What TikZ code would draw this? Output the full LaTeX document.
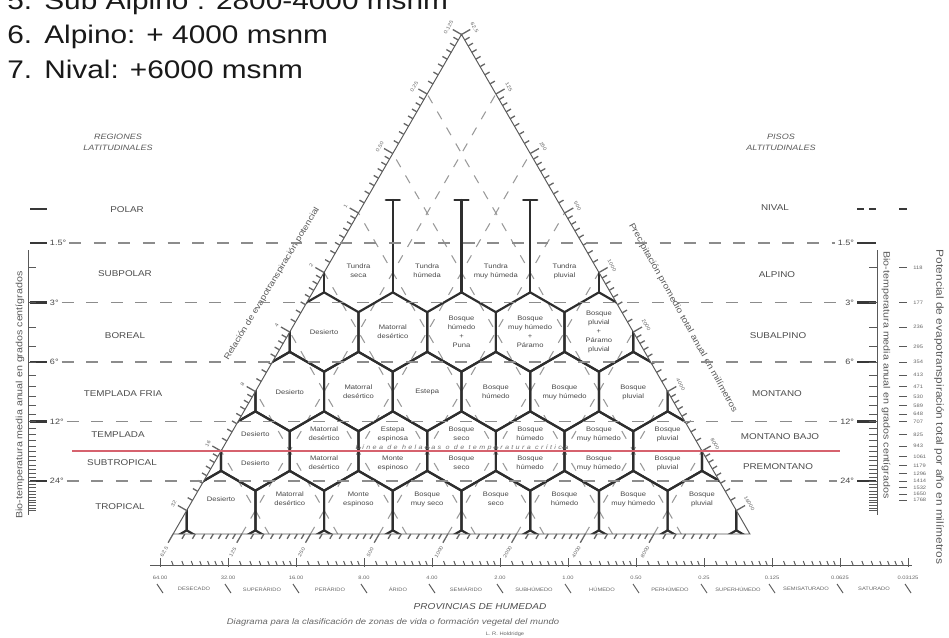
\documentclass[tikz,border=0pt]{standalone}
\usepackage{fontspec}
\setmainfont{Liberation Sans}[FakeStretch=1.17]
\newfontfamily\spacedfont{Liberation Sans}[FakeStretch=1.17,LetterSpace=38]
\usepackage{tikz}
\usetikzlibrary{arrows}
\usetikzlibrary{arrows.meta}
\definecolor{frostred}{RGB}{214,98,110}

\begin{document}
\begin{tikzpicture}[x=0.02cm,y=-0.02cm]
\useasboundingbox (0,0) rectangle (949,637);

%Heading lines
\tikzstyle{title}=[anchor=base west,inner sep=0pt,text=black!90,font=\fontsize{14.5}{17}\selectfont]
\foreach \num/\txt/\y in {5/Sub Alpino : 2800-4000 msnm/9, 6/Alpino: + 4000 msnm/43.5, 7/Nival: +6000 msnm/78}{
\node[title] (num-\num) at (7,\y) {\num.};
\node[title] (item-\num) at (44,\y) {\txt};
}

%Triangle corners
\coordinate (base-l) at (173.1,534);
\coordinate (base-r) at (749.9,534);
\coordinate (apex) at (461.5,34.45);

\tikzstyle{guide}=[draw=black!40,line width=0.6pt,dash pattern=on 5pt off 5.5pt]
\tikzstyle{zone}=[draw=black!82,line width=1.25pt,line join=round,line cap=round]
\tikzstyle{tick}=[draw=black!65,line width=0.55pt]
\tikzstyle{hatch}=[draw=black!60,line width=0.75pt]

%Guide lines and hexagons inside the triangle
\begin{scope}
\clip (base-l) -- (apex) -- (base-r) -- cycle;
\foreach \k in {1,...,7}{
\draw[guide] ({186.65+68.7*\k-23.1},550.5) -- ({186.65+68.7*\k+288.7},10.5);
\draw[guide] ({736.35-68.7*\k+23.1},550.5) -- ({736.35-68.7*\k-288.7},10.5);
}
%Rows 2 and 4
\foreach \r in {2,4}
\foreach \c in {-4,...,4}
\draw[zone,shift={({461.5+68.7*\c},{272.5+59.5*(\r-1)})}] (0,-39.66) -- (34.35,-19.83) -- (34.35,19.83) -- (0,39.66) -- (-34.35,19.83) -- (-34.35,-19.83) -- cycle;
%Rows 3 and 5
\foreach \r in {3,5}
\foreach \c in {-4.5,-3.5,...,4.5}
\draw[zone,shift={({461.5+68.7*\c},{272.5+59.5*(\r-1)})}] (0,-39.66) -- (34.35,-19.83) -- (34.35,19.83) -- (0,39.66) -- (-34.35,19.83) -- (-34.35,-19.83) -- cycle;
%Row 1 - Tundra walls
\foreach \c in {-2,2}
\draw[zone] ({461.5+68.7*\c},252.7) -- ({461.5+68.7*\c},292.3);
\end{scope}

%Polar walls with T tops
\foreach \x [count=\i] in {392.8,461.5,530.2}{
\coordinate (ttop-\i) at (\x,200);
\coordinate (tfoot-\i) at (\x,292.3);
\draw[zone] (tfoot-\i) -- (ttop-\i);
\draw[zone] ({\x-7},200) -- ({\x+7},200);
}

%Triangle sides
\draw[tick] (base-l) -- (apex) -- (base-r) -- cycle;
\foreach \j in {0,...,7}
\foreach \m in {1,...,7}{
\pgfmathsetmacro\dd{59.5*(\j+log2(1+\m/8))}
\draw[hatch] ({186.65+\dd/1.732},{510.5-\dd}) -- ++(-4.8,-2.8);
\draw[hatch] ({736.35-\dd/1.732},{510.5-\dd}) -- ++(4.8,-2.8);
}
\foreach \k in {0,...,7}
\foreach \m in {1,...,7}
\draw[hatch] ({173.1+68.7*(\k+log2(1+\m/8))},534) -- ++(-2.8,4.8);

\tikzstyle{tinytext}=[inner sep=0pt,text=black!60,font=\fontsize{2.8}{3}\selectfont]
%Side scales
\foreach \j/\v in {0/32,1/16,2/8,3/4,4/2,5/1,6/0.50,7/0.25,8/0.125}{
\draw[hatch] ({186.65+59.5*\j/1.732},{510.5-59.5*\j}) -- ++(-8.7,-5);
\node[tinytext,rotate=60] (pet-\j) at ({186.65+59.5*\j/1.732-13},{510.5-59.5*\j-7}) {\v};
}
\foreach \j/\v in {0/16000,1/8000,2/4000,3/2000,4/1000,5/500,6/250,7/125,8/62.5}{
\draw[hatch] ({736.35-59.5*\j/1.732},{510.5-59.5*\j}) -- ++(8.7,-5);
\node[tinytext,rotate=-60] (pre-\j) at ({736.35-59.5*\j/1.732+13},{510.5-59.5*\j-7}) {\v};
}
\foreach \k/\v in {0/62.5,1/125,2/250,3/500,4/1000,5/2000,6/4000,7/8000}{
\draw[hatch] ({173.1+68.7*\k},534) -- ++(-5,8.7);
\node[tinytext,rotate=60] (bas-\k) at ({173.1+68.7*\k-9},552) {\v};
}

%Axis names along the sides
\tikzstyle{axistext}=[inner sep=0pt,text=black!65,font=\fontsize{5.2}{6}\selectfont]
\node[axistext,rotate=59,font=\fontsize{4.7}{6}\selectfont] (ratio-name) at (272,284) {Relación de evapotranspiración potencial};
\node[axistext,rotate=-61,font=\fontsize{4.9}{6}\selectfont] (rain-name) at (683,318) {Precipitación promedio total anual en milímetros};

%Temperature levels
\tikzstyle{degtext}=[inner sep=1.5pt,text=black!72,font=\fontsize{4.4}{5}\selectfont]
\tikzstyle{level}=[draw=black!45,line width=1.1pt,dash pattern=on 6.8pt off 7.2pt]
\tikzstyle{bar}=[draw=black!78,line width=1.5pt]
\foreach \tval/\y [count=\i] in {1.5/243,3/302.5,6/362,12/421.5,24/481}{
\node[degtext,anchor=west] (ldeg-\i) at (47,\y) {\tval°};
\node[degtext,anchor=east] (rdeg-\i) at (857,\y) {\tval°};
\draw[level] (ldeg-\i) -- (rdeg-\i);
\draw[bar] (30,\y) -- (ldeg-\i.west);
\draw[bar] (rdeg-\i.east) -- (876,\y);
}
\draw[bar] (30,209) -- (47,209);
\draw[bar] (857,209) -- (864,209);
\draw[bar] (869,209) -- (876,209);
\draw[bar] (899,209) -- (907,209);

%Frost line
\draw[frostred,line width=0.8pt] (72,451) -- (840,451);
\node[inner sep=0pt,anchor=base,text=black!55,font=\spacedfont\itshape\fontsize{3.5}{4}\selectfont] (frost) at (462,449) {Línea de heladas o de temperatura crítica};

%Life zones
\tikzstyle{zonetext}=[align=center,inner sep=0pt,text=black!72,font=\fontsize{3.7}{5.2}\selectfont]
%Row 1 - Alpino
\foreach \c/\name [count=\i] in {-1.5/Tundra\\seca, -0.5/Tundra\\húmeda, 0.5/Tundra\\muy húmeda, 1.5/Tundra\\pluvial}
\node[zonetext] (alp-\i) at ({461.5+68.7*\c},271) {\name};
%Row 2 - Subalpino
\foreach \c/\name [count=\i] in {-2/Desierto, -1/Matorral\\desértico, 0/Bosque\\húmedo\\+\\Puna, 1/Bosque\\muy húmedo\\+\\Páramo, 2/Bosque\\pluvial\\+\\Páramo\\pluvial}
\node[zonetext] (sub-\i) at ({461.5+68.7*\c},332) {\name};
%Row 3 - Montano
\foreach \c/\name [count=\i] in {-2.5/Desierto, -1.5/Matorral\\desértico, -0.5/Estepa, 0.5/Bosque\\húmedo, 1.5/Bosque\\muy húmedo, 2.5/Bosque\\pluvial}
\node[zonetext] (mon-\i) at ({461.5+68.7*\c},392) {\name};
%Row 4 - Montano bajo
\foreach \c/\name [count=\i] in {-3/Desierto, -2/Matorral\\desértico, -1/Estepa\\espinosa, 0/Bosque\\seco, 1/Bosque\\húmedo, 2/Bosque\\muy húmedo, 3/Bosque\\pluvial}
\node[zonetext] (mba-\i) at ({461.5+68.7*\c},434) {\name};
%Row 4 - Premontano
\foreach \c/\name [count=\i] in {-3/Desierto, -2/Matorral\\desértico, -1/Monte\\espinoso, 0/Bosque\\seco, 1/Bosque\\húmedo, 2/Bosque\\muy húmedo, 3/Bosque\\pluvial}
\node[zonetext] (pre-\i) at ({461.5+68.7*\c},463) {\name};
%Row 5 - Tropical
\foreach \c/\name [count=\i] in {-3.5/Desierto, -2.5/Matorral\\desértico, -1.5/Monte\\espinoso, -0.5/Bosque\\muy seco, 0.5/Bosque\\seco, 1.5/Bosque\\húmedo, 2.5/Bosque\\muy húmedo, 3.5/Bosque\\pluvial}
\node[zonetext] (tro-\i) at ({461.5+68.7*\c},499) {\name};

%Regions and belts
\tikzstyle{regiontext}=[inner sep=0pt,text=black!70,font=\fontsize{4.8}{6}\selectfont]
\tikzstyle{headtext}=[align=center,inner sep=0pt,text=black!65,font=\fontsize{4.4}{6.2}\selectfont\itshape]
\node[headtext] (lat-head) at (118,142) {REGIONES\\LATITUDINALES};
\node[headtext] (alt-head) at (781,142) {PISOS\\ALTITUDINALES};
\foreach \name/\x/\y [count=\i] in {POLAR/127/210, SUBPOLAR/125/274, BOREAL/125/336, TEMPLADA FRIA/123/394, TEMPLADA/118/435, SUBTROPICAL/122/463, TROPICAL/120/507}
\node[regiontext] (lat-\i) at (\x,\y) {\name};
\foreach \name/\x/\y [count=\i] in {NIVAL/775/208, ALPINO/777/275, SUBALPINO/778/336, MONTANO/777/394, MONTANO BAJO/780/437, PREMONTANO/778/467}
\node[regiontext] (alt-\i) at (\x,\y) {\name};

%Biotemperature scales
\draw[tick] (28,250) -- (28,515);
\draw[tick] (877,250) -- (877,515);
\foreach \t in {2,...,34}{
\pgfmathsetmacro\yy{243+59.5*log2(\t/1.5)}
\draw[tick] (28,\yy) -- (36,\yy);
\draw[tick] (869,\yy) -- (877,\yy);
}
\foreach \t/\v in {2/118,3/177,4/236,5/295,6/354,7/413,8/471,9/530,10/589,11/648,12/707,14/825,16/943,18/1061,20/1179,22/1296,24/1414,26/1532,28/1650,30/1768}{
\pgfmathsetmacro\yy{243+59.5*log2(\t/1.5)}
\draw[tick] (899,\yy) -- (907,\yy);
\node[tinytext,anchor=west] (etp-\t) at (913,\yy) {\v};
}
\node[axistext,rotate=90] (bio-l) at (20,395) {Bio-temperatura media anual en grados centígrados};
\node[axistext,rotate=-90] (bio-r) at (886,375) {Bio-temperatura media anual en grados centígrados};
\node[axistext,rotate=-90,font=\fontsize{5.8}{6}\selectfont] (etp-name) at (939,407) {Potencial de evapotranspiración total por año en milímetros};

%Humidity provinces
\draw[tick] (150,565) -- (912,565);
\foreach \i in {0,...,10}
\foreach \m in {1,...,7}
\draw[tick] ({160+68*(\i+log2(1+\m/8))},561) -- ++(1.5,4);
\foreach \v [count=\i from 0] in {64.00,32.00,16.00,8.00,4.00,2.00,1.00,0.50,0.25,0.125,0.0625,0.03125}{
\draw[tick] ({160+68*\i},558) -- ({160+68*\i},567);
\node[tinytext] (hum-\i) at ({160+68*\i},578) {\v};
\draw[tick] ({160+68*\i-3},584) -- ({160+68*\i+3},593);
}
\foreach \name [count=\i from 0] in {DESECADO,SUPERÁRIDO,PERÁRIDO,ÁRIDO,SEMIÁRIDO,SUBHÚMEDO,HÚMEDO,PERHÚMEDO,SUPERHÚMEDO,SEMISATURADO,SATURADO}
\node[tinytext] (prov-\i) at ({194+68*\i},589) {\name};
\node[inner sep=0pt,text=black!70,font=\fontsize{4.9}{6}\selectfont\itshape] (prov-name) at (480,607) {PROVINCIAS DE HUMEDAD};
\node[inner sep=0pt,text=black!60,font=\fontsize{4.6}{6}\selectfont\itshape] (caption) at (393,622) {Diagrama para la clasificación de zonas de vida o formación vegetal del mundo};
\node[tinytext] (author) at (505,634) {L. R. Holdridge};

\end{tikzpicture}
\end{document}
